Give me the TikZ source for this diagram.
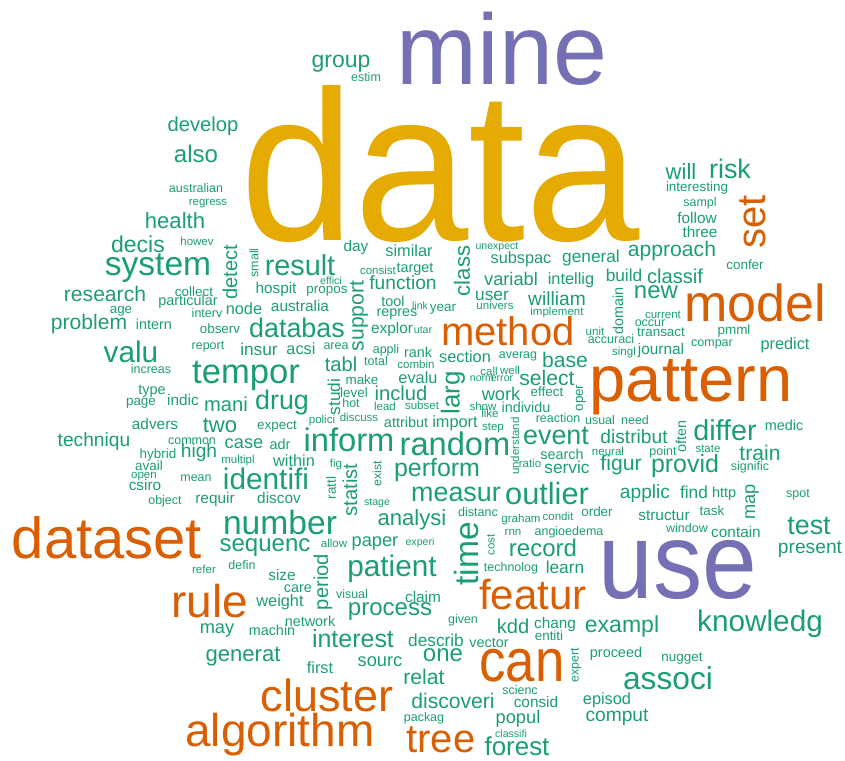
\documentclass[tikz,border=0pt]{standalone}
\usepackage{fontspec}
\setmainfont{Liberation Sans}
\definecolor{wgreen}{HTML}{1B9E77}
\definecolor{worange}{HTML}{D95F02}
\definecolor{wpurple}{HTML}{7570B3}
\definecolor{wgold}{HTML}{E6AB02}
\tikzset{word/.style={inner sep=0pt, outer sep=0pt, anchor=center}}
\newcommand{\wfs}[1]{\fontsize{#1}{#1}\selectfont}
\newcommand{\wfsg}[1]{\pgfmathsetmacro\wfsz{#1*0.96}\fontsize{\wfsz}{\wfsz}\selectfont}
\begin{document}
\begin{tikzpicture}[x=1pt,y=-1pt]
\fill[white] (0,0) rectangle (845,760);
\useasboundingbox (0,0) rectangle (845,760);
% big words
\node[word, text=wgold, font=\wfs{214}] (wdata) at (440,164) {\scalebox{0.96}[1]{data}};
\node[word, text=wpurple, font=\wfs{100}] (wmine) at (502,49) {\scalebox{0.97}[1]{mine}};
\node[word, text=wpurple, font=\wfs{108}] (wuse) at (678,570) {\scalebox{0.91}[1]{use}};
\node[word, text=worange, font=\wfs{60}] (wcan) at (522,666) {\scalebox{0.88}[1]{can}};
% orange words
\foreach \wx/\wy/\ws/\wt [count=\i] in {
508/331/40/method, 755/303/52/model, 691/387/65/pattern, 533/594/42/featur,
107/538/58/dataset, 210/601/46/rule, 327/695/45/cluster, 280/735/46/algorithm,
441/740/40/tree}
  \node[word, text=worange, font=\wfs{\ws}] (o\i) at (\wx,\wy) {\wt};
\node[word, text=worange, font=\wfs{40}, rotate=90] (oset) at (753,222) {set};
% green rotated words
\foreach \wx/\wy/\ws/\wt [count=\i] in {
230/272/21/detect, 254/263/13/small, 359/316/22/support, 334/397/18/studi,
350/490/21/statist, 331/488/14/rattl, 377/474/13/exist, 462/271/23/class,
618/311/15/domain, 581/398/14/oper, 515/446/12/understand, 681/436/15/often,
752/502/19/map, 466/554/35/time, 491/545/12/cost, 576/665/13/expert,
323/582/21/period, 453/393/27/larg}
  \node[word, text=wgreen, font=\wfsg{\ws}, rotate=90] (r\i) at (\wx,\wy) {\wt};
% green horizontal words
\foreach \wx/\wy/\ws/\wt [count=\i] in {
203/126/21/develop, 196/154/25/also, 196/188/13/australian, 208/204/12/regress,
175/221/23/health, 197/241/12/howev, 138/244/24/decis, 341/64/24/group,
366/77/13/estim, 681/171/23/will, 730/169/28/risk, 697/188/14/interesting,
700/203/13/sampl, 697/218/16/follow, 700/232/16/three, 672/251/22/approach,
497/247/11/unexpect, 158/268/35/system, 105/294/22/research, 194/292/14/collect,
188/302/15/particular, 121/311/14/age, 89/324/22/problem, 154/324/15/intern,
207/313/13/interv, 220/329/14/observ, 208/347/13/report, 131/352/31/valu,
151/369/13/increas, 246/376/36/tempor, 152/391/15/type, 141/403/14/page,
183/400/16/indic, 226/404/21/mani, 282/403/28/drug, 220/425/23/two,
155/424/16/advers, 94/442/20/techniqu, 192/441/13/common, 158/455/14/hybrid,
199/453/20/high, 149/466/14/avail, 144/477/12/open, 145/485/16/csiro,
196/478/13/mean, 165/501/13/object, 215/500/16/requir, 300/265/30/result,
378/270/12/consist, 415/269/15/target, 331/281/11/effici, 276/290/16/hospit,
327/291/14/propos, 403/283/20/function, 393/301/15/tool, 420/306/11/link,
397/314/15/repres, 244/309/17/node, 300/306/16/australia, 297/328/28/databas,
392/330/16/explor, 423/330/11/utar, 259/349/18/insur, 301/349/17/acsi,
336/346/13/area, 386/350/13/appli, 418/352/15/rank, 341/364/21/tabl,
376/361/13/total, 416/364/12/combin, 362/380/14/make, 418/378/17/evalu,
354/393/14/level, 351/403/13/hot, 401/393/21/includ, 385/406/12/lead,
422/405/12/subset, 322/421/12/polici, 359/417/12/discuss, 406/422/15/attribut,
277/427/14/expect, 349/440/34/inform, 455/444/34/random, 244/444/19/case,
280/444/15/adr, 238/461/12/multipl, 294/461/17/within, 336/465/12/fig,
266/479/31/identifi, 437/470/26/perform, 456/494/28/measur, 279/498/16/discov,
377/503/11/stage, 356/248/16/day, 409/251/17/similar, 521/259/17/subspac,
591/258/18/general, 511/279/19/variabl, 571/280/17/intellig, 624/275/18/build,
492/296/18/user, 495/305/12/univers, 557/299/20/william, 443/309/14/year,
557/313/12/implement, 595/331/12/unit, 611/339/13/accuraci, 624/353/12/singl,
465/357/17/section, 518/356/13/averag, 565/360/22/base, 489/371/12/call,
510/370/12/well, 482/379/11/norm, 502/379/11/error, 547/378/22/select,
501/394/19/work, 547/392/14/effect, 483/406/12/show, 526/407/15/individu,
490/413/12/like, 455/423/17/import, 558/418/13/reaction, 493/428/12/step,
600/420/13/usual, 635/420/13/need, 556/436/28/event, 634/437/20/distribut,
562/454/15/search, 608/451/12/neural, 530/463/12/ratio, 567/467/18/servic,
621/465/22/figur, 547/494/32/outlier, 645/494/20/applic, 745/265/14/confer,
675/276/21/classif, 656/292/25/new, 663/315/12/current, 650/323/13/occur,
661/332/14/transact, 734/331/14/pmml, 712/344/13/compar, 785/345/17/predict,
661/351/16/journal, 784/425/15/medic, 725/430/30/differ, 663/452/13/point,
708/449/12/state, 760/453/22/train, 685/466/26/provid, 750/467/13/signific,
694/492/18/find, 724/494/15/http, 798/495/13/spot, 664/516/16/structur,
712/511/14/task, 687/528/13/window, 736/532/16/contain, 809/526/28/test,
810/549/20/present, 760/624/31/knowledg, 622/627/24/exampl, 682/659/14/nugget,
616/654/15/proceed, 668/678/33/associ, 617/717/20/comput, 478/512/13/distanc,
521/520/12/graham, 558/516/12/condit, 597/512/14/order, 513/532/12/rnn,
569/532/13/angioedema, 412/520/23/analysi, 543/548/25/record, 511/568/13/technolog,
565/567/18/learn, 463/620/13/given, 513/626/21/kdd, 555/625/16/chang,
549/636/14/entiti, 436/640/18/describ, 489/643/15/vector, 443/655/25/one,
520/690/13/scienc, 424/677/22/relat, 453/701/22/discoveri, 536/702/16/consid,
607/700/17/episod, 424/718/13/packag, 518/719/19/popul, 511/734/11/classifi,
517/746/27/forest, 280/522/35/number, 265/548/25/sequenc, 334/543/12/allow,
375/543/19/paper, 420/543/11/experi, 242/565/13/defin, 204/569/12/refer,
392/569/31/patient, 282/575/16/size, 298/589/15/care, 352/594/13/visual,
280/602/17/weight, 423/597/16/claim, 390/612/25/process, 310/621/15/network,
217/630/19/may, 272/630/15/machin, 353/639/26/interest, 243/657/23/generat,
320/668/17/first, 380/662/19/sourc}
  \node[word, text=wgreen, font=\wfsg{\ws}] (g\i) at (\wx,\wy) {\wt};
\end{tikzpicture}
\end{document}
